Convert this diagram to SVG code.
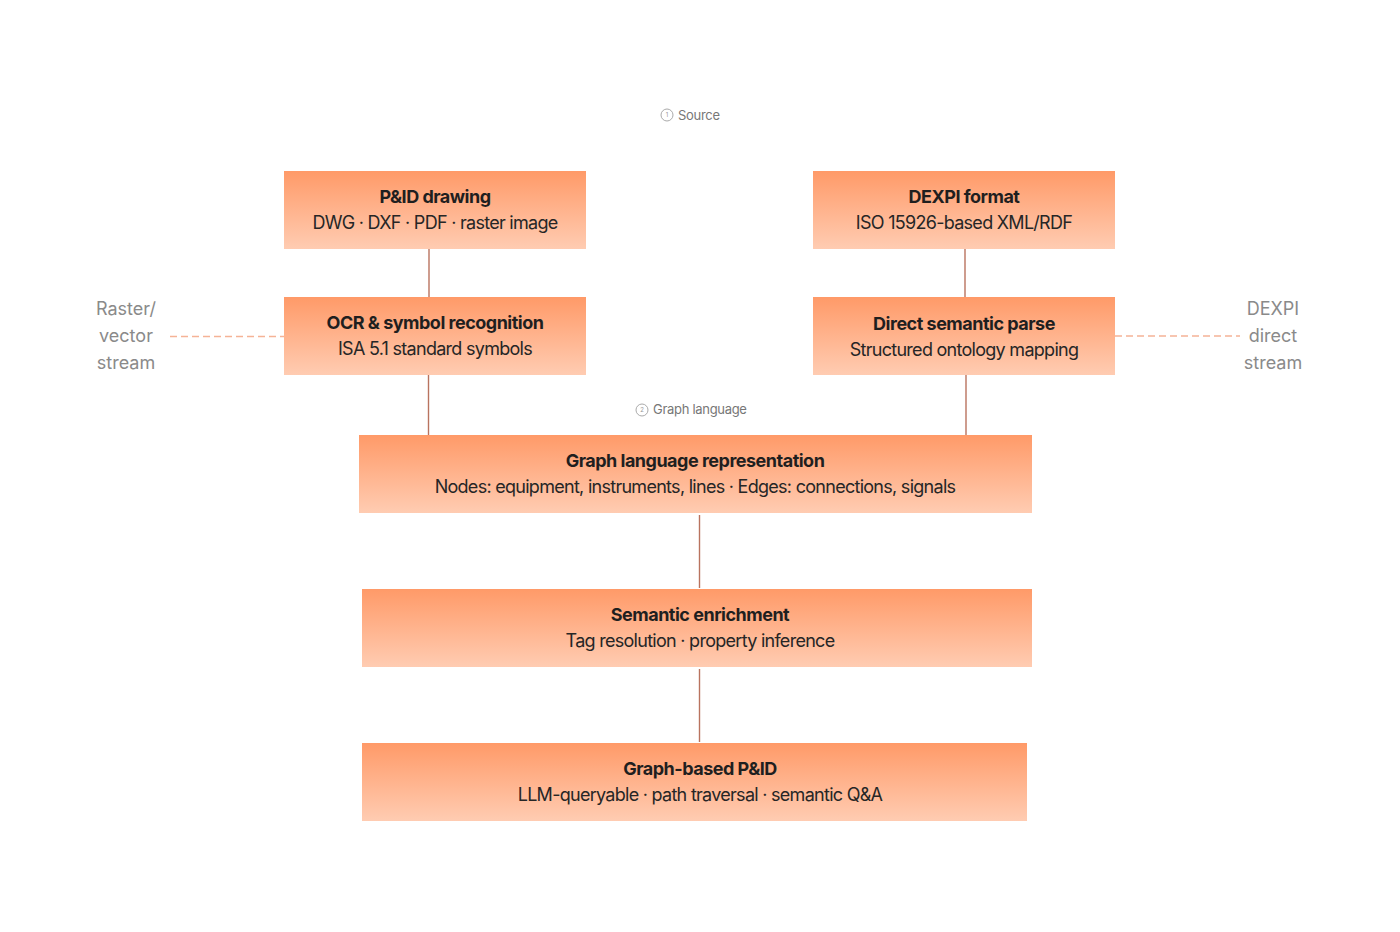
<svg xmlns="http://www.w3.org/2000/svg" width="1400" height="932" viewBox="0 0 1400 932">
<defs>
<linearGradient id="g" x1="0" y1="0" x2="0" y2="1">
<stop offset="0" stop-color="#FF9A68"/>
<stop offset="1" stop-color="#FFCCB2"/>
</linearGradient>
<style>
.box{fill:url(#g);}
.t{font-family:Inter,"Liberation Sans",sans-serif;font-size:18px;font-weight:700;fill:#1f1f1f;text-anchor:middle;letter-spacing:-0.5px;}
.s{font-family:Inter,"Liberation Sans",sans-serif;font-size:18px;font-weight:400;fill:#262626;text-anchor:middle;letter-spacing:-0.72px;}
.side{font-family:Inter,"Liberation Sans",sans-serif;font-size:18px;fill:#8a8a8a;text-anchor:middle;}
.sec{font-family:Inter,"Liberation Sans",sans-serif;font-size:13px;fill:#777;letter-spacing:-0.3px;}
.num{font-family:Inter,"Liberation Sans",sans-serif;font-size:6px;fill:#999;text-anchor:middle;}
.circ{fill:none;stroke:#aaa;stroke-width:1;}
.c{stroke:#B9735F;stroke-width:1.4;fill:none;}
.d{stroke:#F5B396;stroke-width:1.5;stroke-dasharray:7 4;fill:none;}
</style>
</defs>
<rect width="1400" height="932" fill="#fff"/>

<g id="section-source">
<circle class="circ" cx="667" cy="115" r="6"/>
<text class="num" x="667" y="117">1</text>
<text class="sec" x="678" y="120">Source</text>
</g>
<g id="section-graph">
<circle class="circ" cx="642" cy="410" r="6"/>
<text class="num" x="642" y="412">2</text>
<text class="sec" x="653" y="414">Graph language</text>
</g>

<g id="connectors">
<line class="c" x1="429" y1="249" x2="429" y2="297"/>
<line class="c" x1="965" y1="249" x2="965" y2="297"/>
<line class="c" x1="428.5" y1="375" x2="428.5" y2="435"/>
<line class="c" x1="966" y1="375" x2="966" y2="435"/>
<line class="c" x1="699.5" y1="515" x2="699.5" y2="588"/>
<line class="c" x1="699.5" y1="669" x2="699.5" y2="742"/>
<line class="d" x1="170" y1="336.5" x2="284" y2="336.5"/>
<line class="d" x1="1115" y1="336" x2="1240" y2="336"/>
</g>

<g id="node-pid">
<rect class="box" x="284" y="171" width="302" height="78"/>
<text class="t" x="435" y="203">P&amp;ID drawing</text>
<text class="s" x="435" y="229">DWG · DXF · PDF · raster image</text>
</g>
<g id="node-dexpi">
<rect class="box" x="813" y="171" width="302" height="78"/>
<text class="t" x="964" y="203">DEXPI format</text>
<text class="s" x="964" y="229">ISO 15926-based XML/RDF</text>
</g>
<g id="node-ocr">
<rect class="box" x="284" y="297" width="302" height="78"/>
<text class="t" x="435" y="329">OCR &amp; symbol recognition</text>
<text class="s" x="435" y="355">ISA 5.1 standard symbols</text>
</g>
<g id="node-parse">
<rect class="box" x="813" y="297" width="302" height="78"/>
<text class="t" x="964" y="330">Direct semantic parse</text>
<text class="s" x="964" y="356">Structured ontology mapping</text>
</g>
<g id="node-graph">
<rect class="box" x="359" y="435" width="673" height="78"/>
<text class="t" x="695" y="467">Graph language representation</text>
<text class="s" x="695" y="493">Nodes: equipment, instruments, lines · Edges: connections, signals</text>
</g>
<g id="node-enrich">
<rect class="box" x="362" y="589" width="670" height="78"/>
<text class="t" x="700" y="621">Semantic enrichment</text>
<text class="s" x="700" y="647">Tag resolution · property inference</text>
</g>
<g id="node-final">
<rect class="box" x="362" y="743" width="665" height="78"/>
<text class="t" x="700" y="775">Graph-based P&amp;ID</text>
<text class="s" x="700" y="801">LLM-queryable · path traversal · semantic Q&amp;A</text>
</g>

<g id="label-left">
<text class="side" x="126" y="315">Raster/</text>
<text class="side" x="126" y="342">vector</text>
<text class="side" x="126" y="369">stream</text>
</g>
<g id="label-right">
<text class="side" x="1273" y="315">DEXPI</text>
<text class="side" x="1273" y="342">direct</text>
<text class="side" x="1273" y="369">stream</text>
</g>
</svg>
